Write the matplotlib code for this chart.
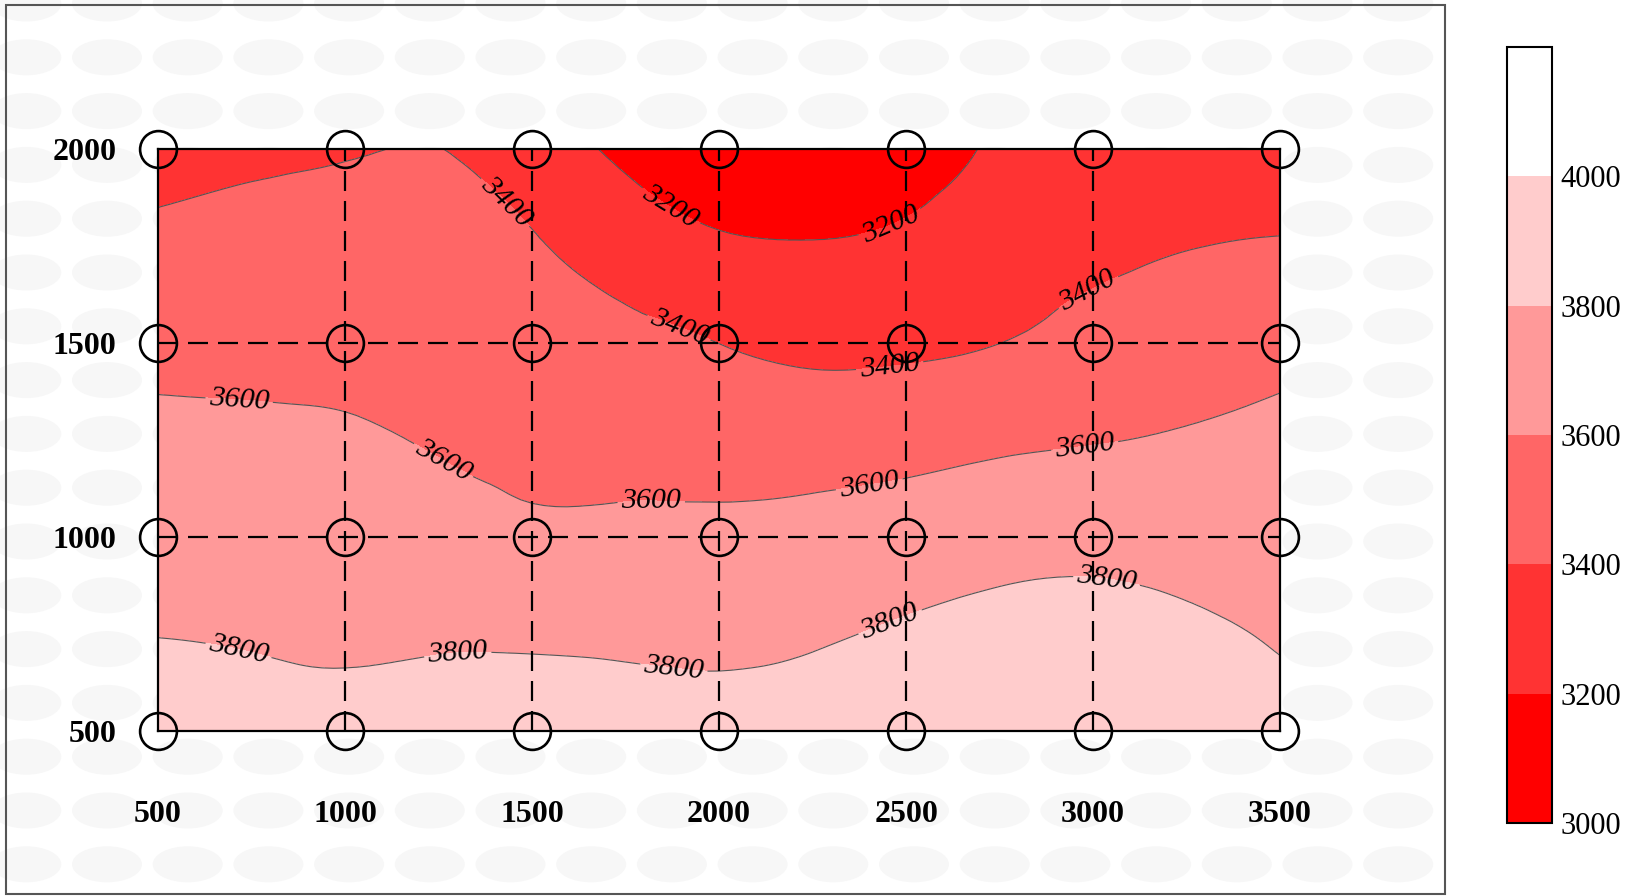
import numpy as np
import matplotlib
matplotlib.use("Agg")
import matplotlib.pyplot as plt
import matplotlib.tri as mtri
from matplotlib.patches import Rectangle, Ellipse

plt.rcParams["font.family"] = ["Liberation Serif", "DejaVu Serif"]

xs = [500, 750, 1000, 1250, 1500, 1750, 2000, 2250, 2500, 2750, 3000, 3250, 3500]
ys = [500, 750, 1000, 1250, 1500, 1750, 2000]
row_500 = [3876, 3861, 3846, 3878, 3890, 3880, 3870, 3890, 3900, 3910, 3920, 3900, 3858]
row_750 = [3797, 3785, 3771, 3777, 3773, 3764, 3753, 3779, 3822, 3859, 3868, 3833, 3784]
row_1000 = [3719, 3708, 3697, 3677, 3634, 3637, 3640, 3659, 3690, 3726, 3741, 3726, 3713]
row_1250 = [3640, 3632, 3622, 3585, 3549, 3537, 3521, 3517, 3535, 3568, 3592, 3616, 3641]
row_1500 = [3548, 3548, 3544, 3523, 3481, 3447, 3399, 3359, 3365, 3399, 3457, 3504, 3545]
row_1750 = [3441, 3457, 3465, 3462, 3413, 3320, 3231, 3210, 3237, 3315, 3363, 3395, 3412]
row_2000 = [3335, 3367, 3386, 3402, 3310, 3150, 3015, 3015, 3094, 3230, 3300, 3310, 3330]

levels = [3000, 3200, 3400, 3600, 3800, 4000, 4200]
colors = ["#ff0000", "#ff3333", "#ff6666", "#ff9999", "#ffcccc", "#ffffff"]
cbar_ticks = [3000, 3200, 3400, 3600, 3800, 4000]

# measurement stations
station_x = [500, 1000, 1500, 2000, 2500, 3000, 3500]
station_y = [500, 1000, 1500, 2000]
tick_x = ["500", "1000", "1500", "2000", "2500", "3000", "3500"]
tick_y = ["500", "1000", "1500", "2000"]

label_spots = [(1400, 1834), (1887, 1525), (2458, 1423), (3001, 1606),
               (1859, 1834), (2458, 1807),
               (717, 1356), (1255, 1184), (1818, 1069), (2402, 1131), (2979, 1222),
               (712, 693), (1302, 685), (1879, 661), (2458, 779), (3035, 881)]

Z = np.array([row_500, row_750, row_1000, row_1250, row_1500, row_1750, row_2000], float)
X, Y = np.meshgrid(xs, ys)

tri = mtri.Triangulation(X.ravel(), Y.ravel())
refiner = mtri.UniformTriRefiner(tri)
tri_f, z_f = refiner.refine_field(Z.ravel(), subdiv=3)

W, H = 1633, 896
fig = plt.figure(figsize=(W / 100, H / 100), dpi=100)

# background layer in pixel units: faint texture + outer frame
bg = fig.add_axes([0, 0, 1, 1], zorder=-5)
bg.set_xlim(0, W)
bg.set_ylim(H, 0)
bg.axis("off")
for j in range(17):
    cy = 3.5 + 53.8 * j
    for i in range(19):
        cx = 26.3 + 80.7 * i
        if cx + 35 > 1445 or cy + 18 > 894:
            continue
        bg.add_patch(Ellipse((cx, cy), 70, 36, facecolor="#f7f7f7", edgecolor="none"))
bg.add_patch(Rectangle((6, 5), 1439, 889, fill=False, edgecolor="#555555", lw=1.5))

ax = fig.add_axes([0.0968, 0.1842, 0.6871, 0.6496])
ax.set_facecolor("white")

cf = ax.tricontourf(tri_f, z_f, levels=levels, colors=colors)
ax.tricontour(tri_f, z_f, levels=[3000], colors="#888888", linewidths=0.8)
cl = ax.tricontour(tri_f, z_f, levels=levels[1:5], colors="#555555", linewidths=0.8)
ax.clabel(cl, fmt="%d", fontsize=21.5, colors="black", inline=True,
          inline_spacing=4, manual=label_spots)
for t in cl.labelTexts:
    t.set_style("italic")

for gx in station_x[1:-1]:
    ax.axvline(gx, color="black", lw=1.6, ls=(0, (9, 4.5)), zorder=3)
for gy in station_y[1:-1]:
    ax.axhline(gy, color="black", lw=1.6, ls=(0, (9, 4.5)), zorder=3)

SX, SY = np.meshgrid(station_x, station_y)
ax.plot(SX.ravel(), SY.ravel(), "o", ms=26.5, mfc="none", mec="black",
        mew=1.9, clip_on=False, zorder=5)

ax.set_xlim(500, 3500)
ax.set_ylim(500, 2000)
ax.set_xticks(station_x)
ax.set_xticklabels(tick_x)
ax.set_yticks(station_y)
ax.set_yticklabels(tick_y)
ax.tick_params(length=0, labelsize=23)
ax.tick_params(axis="x", pad=50)
ax.tick_params(axis="y", pad=30)
for lab in ax.get_xticklabels() + ax.get_yticklabels():
    lab.set_fontweight("bold")
for s in ax.spines.values():
    s.set_linewidth(1.6)

cax = fig.add_axes([0.9229, 0.0815, 0.0276, 0.866])
cb = fig.colorbar(cf, cax=cax, ticks=cbar_ticks)
cb.outline.set_linewidth(1.5)
cb.dividers.set_color("black")
cb.dividers.set_linewidth(1.2)
cb.ax.tick_params(length=0, labelsize=22, pad=6)
cb.ax.set_yticklabels([str(v) for v in cbar_ticks])

fig.savefig("out.png", dpi=100)
